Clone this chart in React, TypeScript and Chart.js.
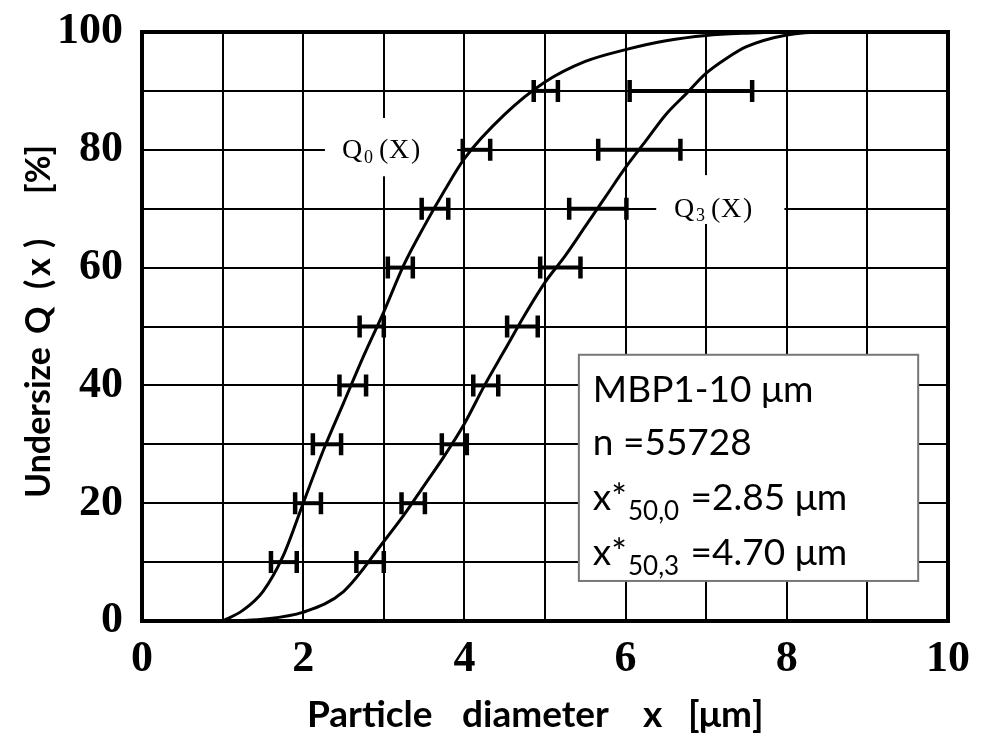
import React, { useEffect, useRef } from 'react';
import { Chart, registerables } from 'chart.js';
Chart.register(...registerables);

// Error-bar levels (undersize %)
const levels = [10, 20, 30, 40, 50, 60, 70, 80, 90];
// Q0(x) error bar limits (µm)
const q0Lo = [1.6, 1.9, 2.12, 2.45, 2.7, 3.05, 3.47, 3.98, 4.86];
const q0Hi = [1.92, 2.22, 2.47, 2.78, 3.0, 3.36, 3.8, 4.32, 5.16];
// Q3(x) error bar limits (µm)
const q3Lo = [2.66, 3.22, 3.72, 4.11, 4.53, 4.94, 5.3, 5.66, 6.05];
const q3Hi = [3.0, 3.51, 4.03, 4.42, 4.91, 5.44, 6.01, 6.68, 7.57];

// Q0 curve
const q0X = [1.0, 1.25, 1.5, 1.75, 2.0, 2.25, 2.5, 2.75, 3.0, 3.25, 3.5, 3.75, 4.0, 4.5, 5.0, 5.5, 6.0, 6.5, 7.0, 7.5, 8.0, 9.0];
const q0Y = [0, 1.8, 5, 11, 20, 29, 37, 45, 52.5, 60.5, 67, 73, 78.5, 86, 91.5, 95, 97, 98.5, 99.4, 99.8, 100, 100];
// Q3 curve
const q3X = [1.0, 1.5, 2.0, 2.5, 3.0, 3.25, 3.5, 3.75, 4.0, 4.25, 4.5, 4.75, 5.0, 5.25, 5.5, 5.75, 6.0, 6.25, 6.5, 6.75, 7.0, 7.25, 7.5, 8.0, 8.5, 9.0];
const q3Y = [0, 0.3, 1.5, 5, 13.5, 18, 23, 28, 33.5, 40, 46, 52, 57.5, 62, 67, 72, 77, 81.5, 86, 89.5, 93, 95.5, 97.5, 99.5, 100, 100];

const xTickLabels = [0, 2, 4, 6, 8, 10];
const yTickLabels = [0, 20, 40, 60, 80, 100];

const infoLines = ['MBP1-10 μm', 'n =55728'];
const medians = [
  { sub: '50,0', val: ' =2.85 μm' },
  { sub: '50,3', val: ' =4.70 μm' },
];

const SANS = 'Lato, "Open Sans", sans-serif';
const SERIF = '"Liberation Serif", "Times New Roman", serif';

export default function App() {
  const ref = useRef<HTMLCanvasElement>(null);
  useEffect(() => {
    const canvas = ref.current!;
    const pts = (xs: number[], ys: number[]) => xs.map((x, i) => ({ x, y: ys[i] }));

    const decor = {
      id: 'decor',
      beforeDatasetsDraw(chart: any) {
        const { ctx, chartArea: a, scales } = chart;
        const sx = scales.x, sy = scales.y;
        ctx.save();
        // frame
        ctx.strokeStyle = '#000';
        ctx.lineWidth = 4;
        ctx.strokeRect(a.left, a.top, a.right - a.left, a.bottom - a.top);

        // white boxes behind curve labels
        const box = (x0: number, x1: number, y0: number, y1: number) => {
          const px0 = sx.getPixelForValue(x0), px1 = sx.getPixelForValue(x1);
          const py0 = sy.getPixelForValue(y0), py1 = sy.getPixelForValue(y1);
          ctx.fillStyle = '#fff';
          ctx.fillRect(px0, py0, px1 - px0, py1 - py0);
        };
        box(2.27, 3.91, 85.4, 75.5);
        box(6.38, 7.97, 75.7, 67.4);

        // curve labels
        const qlabel = (xv: number, yv: number, sub: string) => {
          const px = sx.getPixelForValue(xv), py = sy.getPixelForValue(yv) + 1;
          ctx.fillStyle = '#000';
          ctx.textBaseline = 'middle';
          ctx.textAlign = 'left';
          ctx.font = `28px ${SERIF}`;
          ctx.fillText('Q', px, py);
          ctx.fillText('(', px + 37, py);
          ctx.fillText('X', px + 47, py);
          ctx.fillText(')', px + 69, py);
          ctx.font = `18px ${SERIF}`;
          ctx.fillText(sub, px + 22, py + 7);
        };
        qlabel(2.48, 80, '0');
        qlabel(6.6, 70, '3');

        // info box
        const bx0 = sx.getPixelForValue(5.42), bx1 = sx.getPixelForValue(9.63);
        const by0 = sy.getPixelForValue(45.2), by1 = sy.getPixelForValue(6.8);
        ctx.fillStyle = '#fff';
        ctx.fillRect(bx0, by0, bx1 - bx0, by1 - by0);
        ctx.strokeStyle = '#777';
        ctx.lineWidth = 2;
        ctx.strokeRect(bx0, by0, bx1 - bx0, by1 - by0);
        ctx.fillStyle = '#000';
        ctx.textAlign = 'left';
        ctx.textBaseline = 'alphabetic';
        const tx = bx0 + 14;
        ctx.font = `37px ${SANS}`;
        ctx.fillText(infoLines[0], tx, by0 + 47);
        ctx.fillText(infoLines[1], tx, by0 + 100);
        medians.forEach((m, i) => {
          const b = by0 + 155 + i * 55;
          let cx = tx;
          ctx.font = `37px ${SANS}`;
          ctx.fillText('x*', cx, b);
          cx += ctx.measureText('x*').width + 1;
          ctx.font = `26px ${SANS}`;
          ctx.fillText(m.sub, cx, b + 10);
          cx += ctx.measureText(m.sub).width + 2;
          ctx.font = `37px ${SANS}`;
          ctx.fillText(m.val, cx, b);
        });
        ctx.restore();
      },
      afterDatasetsDraw(chart: any) {
        const { ctx, scales } = chart;
        const sx = scales.x, sy = scales.y;
        ctx.save();
        ctx.strokeStyle = '#000';
        ctx.lineCap = 'butt';
        const bars = (lo: number[], hi: number[]) => {
          levels.forEach((lv, i) => {
            const y = sy.getPixelForValue(lv);
            const x0 = sx.getPixelForValue(lo[i]);
            const x1 = sx.getPixelForValue(hi[i]);
            ctx.lineWidth = 4;
            ctx.beginPath();
            ctx.moveTo(x0, y);
            ctx.lineTo(x1, y);
            ctx.stroke();
            ctx.lineWidth = 4.5;
            ctx.beginPath();
            ctx.moveTo(x0, y - 11);
            ctx.lineTo(x0, y + 11);
            ctx.moveTo(x1, y - 11);
            ctx.lineTo(x1, y + 11);
            ctx.stroke();
          });
        };
        bars(q0Lo, q0Hi);
        bars(q3Lo, q3Hi);
        ctx.restore();
      },
      afterDraw(chart: any) {
        const { ctx, chartArea: a } = chart;
        ctx.save();
        ctx.fillStyle = '#000';
        ctx.textAlign = 'left';
        ctx.textBaseline = 'alphabetic';
        ctx.font = `bold 37px ${SANS}`;
        // x title words
        const xw: [string, number][] = [['Particle', 165], ['diameter', 320], ['x', 501], ['[μm]', 546]];
        xw.forEach(([w, off]) => ctx.fillText(w, a.left + off, 727));
        // y title (rotated), each piece starts (bottom end) at the given y
        ctx.font = `bold 34px ${SANS}`;
        const yw: [string, number][] = [['Undersize', 498], ['Q', 334], ['(', 289], ['x', 276], [')', 248], ['[%]', 194]];
        yw.forEach(([w, yb]) => {
          ctx.save();
          ctx.translate(50, yb);
          ctx.rotate(-Math.PI / 2);
          ctx.fillText(w, 0, 0);
          ctx.restore();
        });
        ctx.restore();
      },
    };

    const chart = new Chart(canvas, {
      type: 'scatter',
      data: {
        datasets: [
          {
            label: 'Q0(x)',
            data: pts(q0X, q0Y),
            showLine: true,
            borderColor: '#000',
            borderWidth: 3,
            pointRadius: 0,
            cubicInterpolationMode: 'monotone',
            fill: false,
          },
          {
            label: 'Q3(x)',
            data: pts(q3X, q3Y),
            showLine: true,
            borderColor: '#000',
            borderWidth: 3,
            pointRadius: 0,
            cubicInterpolationMode: 'monotone',
            fill: false,
          },
        ],
      },
      options: {
        animation: false,
        responsive: true,
        maintainAspectRatio: false,
        layout: { padding: { left: 0, right: 33, top: 32, bottom: 0 } },
        plugins: { legend: { display: false }, tooltip: { enabled: false } },
        scales: {
          x: {
            type: 'linear',
            min: 0,
            max: 10,
            afterFit: (s: any) => { s.height = 114; s.paddingLeft = 0; s.paddingRight = 0; },
            ticks: {
              stepSize: 1,
              autoSkip: false,
              maxRotation: 0,
              minRotation: 0,
              padding: 12,
              color: '#000',
              font: { family: SERIF, size: 44, weight: 'bold' },
              callback: (v: any) => (xTickLabels.includes(Number(v)) ? String(v) : ''),
            },
            grid: { color: '#000', lineWidth: 2, drawTicks: false },
            border: { color: '#000', width: 4 },
          },
          y: {
            type: 'linear',
            min: 0,
            max: 100,
            afterFit: (s: any) => { s.width = 142; s.paddingTop = 0; s.paddingBottom = 0; },
            ticks: {
              stepSize: 10,
              autoSkip: false,
              padding: 19,
              color: '#000',
              font: { family: SERIF, size: 44, weight: 'bold' },
              callback: (v: any) => (yTickLabels.includes(Number(v)) ? String(v) : ''),
            },
            grid: { color: '#000', lineWidth: 2, drawTicks: false },
            border: { color: '#000', width: 4 },
          },
        },
      },
      plugins: [decor],
    } as any);
    return () => chart.destroy();
  }, []);

  return (
    <div style={{ position: 'absolute', left: 0, top: 0, width: 981, height: 735, background: '#fff' }}>
      <canvas ref={ref} />
    </div>
  );
}
